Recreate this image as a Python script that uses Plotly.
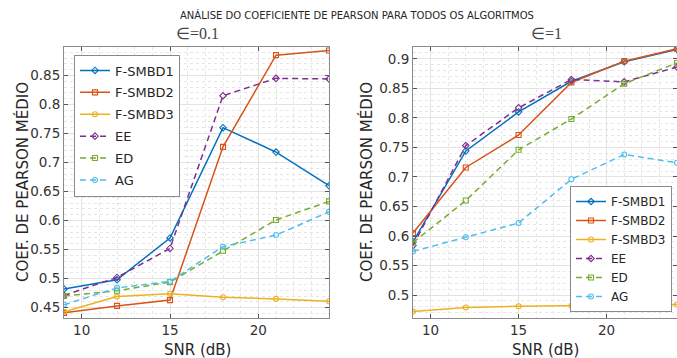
import plotly.graph_objects as go

snr = [9, 12, 15, 18, 21, 24]
names = ["F-SMBD1", "F-SMBD2", "F-SMBD3", "EE", "ED", "AG"]

# epsilon = 0.1
left_fsmbd1 = [0.482, 0.498, 0.570, 0.760, 0.718, 0.660]
left_fsmbd2 = [0.441, 0.453, 0.463, 0.727, 0.885, 0.893]
left_fsmbd3 = [0.443, 0.469, 0.474, 0.468, 0.465, 0.461]
left_ee = [0.471, 0.502, 0.552, 0.815, 0.845, 0.844]
left_ed = [0.470, 0.479, 0.494, 0.548, 0.601, 0.633]
left_ag = [0.455, 0.484, 0.495, 0.555, 0.575, 0.615]

# epsilon = 1
right_fsmbd1 = [0.590, 0.744, 0.810, 0.862, 0.895, 0.916]
right_fsmbd2 = [0.605, 0.716, 0.771, 0.860, 0.896, 0.917]
right_fsmbd3 = [0.472, 0.479, 0.481, 0.482, 0.483, 0.484]
right_ee = [0.584, 0.753, 0.817, 0.865, 0.861, 0.886]
right_ed = [0.589, 0.660, 0.746, 0.798, 0.858, 0.893]
right_ag = [0.574, 0.598, 0.622, 0.696, 0.738, 0.724]

left_ticks_y = [0.45, 0.5, 0.55, 0.6, 0.65, 0.7, 0.75, 0.8, 0.85]
right_ticks_y = [0.5, 0.55, 0.6, 0.65, 0.7, 0.75, 0.8, 0.85, 0.9]
ticks_x = [10, 15, 20]

colors = ["#0072BD", "#D95319", "#EDB120", "#7E2F8E", "#77AC30", "#4DBEEE"]
symbols = ["diamond-open", "square-open", "circle-open", "diamond-open", "square-open", "circle-open"]
dashes = ["solid", "solid", "solid", "6px,4px", "6px,4px", "6px,4px"]

left_series = [left_fsmbd1, left_fsmbd2, left_fsmbd3, left_ee, left_ed, left_ag]
right_series = [right_fsmbd1, right_fsmbd2, right_fsmbd3, right_ee, right_ed, right_ag]

W, H = 677, 358
FONT = "DejaVu Sans"

fig = go.Figure()
for i, (nm, ys) in enumerate(zip(names, left_series)):
    fig.add_trace(go.Scatter(
        x=snr, y=ys, name=nm, mode="lines+markers",
        line=dict(color=colors[i], width=1.5, dash=dashes[i]),
        marker=dict(symbol=symbols[i], size=5, color=colors[i], line=dict(width=1.1, color=colors[i])),
        xaxis="x", yaxis="y", legend="legend", legendgroup="L%d" % i,
    ))
for i, (nm, ys) in enumerate(zip(names, right_series)):
    fig.add_trace(go.Scatter(
        x=snr, y=ys, name=nm, mode="lines+markers",
        line=dict(color=colors[i], width=1.5, dash=dashes[i]),
        marker=dict(symbol=symbols[i], size=5, color=colors[i], line=dict(width=1.1, color=colors[i])),
        xaxis="x2", yaxis="y2", legend="legend2",
    ))

def px_x(p):
    return p / W

def px_y(p):
    return 1 - p / H

ydom = [px_y(317.5), px_y(47)]

axis_common = dict(
    showline=True, linecolor="#8a8a8a", linewidth=1, mirror="ticks",
    ticks="inside", ticklen=4, tickcolor="#555",
    showgrid=True, gridcolor="#e3e3e3", gridwidth=1,
    zeroline=False,
    tickfont=dict(family=FONT, size=13.5, color="#333"),
)

fig.update_layout(
    width=W, height=H,
    margin=dict(l=0, r=0, t=0, b=0),
    paper_bgcolor="white", plot_bgcolor="white",
    font=dict(family=FONT, color="#262626"),
    xaxis=dict(domain=[px_x(64), px_x(329)], range=[9, 24], tickvals=ticks_x,
               minor=dict(dtick=1, showgrid=True, gridcolor="#e6e6e6", griddash="dot", ticks=""),
               anchor="y", **axis_common),
    yaxis=dict(domain=ydom, range=[0.433, 0.899], tickvals=left_ticks_y,
               ticktext=[("%g" % v) for v in left_ticks_y],
               minor=dict(dtick=0.01, tick0=0, showgrid=True, gridcolor="#e6e6e6", griddash="dot", ticks=""),
               anchor="x", **axis_common),
    xaxis2=dict(domain=[px_x(413), 1.0], range=[9, 24], tickvals=ticks_x,
                minor=dict(dtick=1, showgrid=True, gridcolor="#e6e6e6", griddash="dot", ticks=""),
                anchor="y2", **axis_common),
    yaxis2=dict(domain=ydom, range=[0.462, 0.920], tickvals=right_ticks_y,
                ticktext=[("%g" % v) for v in right_ticks_y],
                minor=dict(dtick=0.01, tick0=0, showgrid=True, gridcolor="#e6e6e6", griddash="dot", ticks=""),
                anchor="x2", **axis_common),
    legend=dict(x=px_x(74), y=px_y(54.5), xanchor="left", yanchor="top",
                bgcolor="white", bordercolor="#8a8a8a", borderwidth=1,
                font=dict(family=FONT, size=13, color="#262626"),
                tracegroupgap=2, itemwidth=30),
    legend2=dict(x=px_x(672), y=px_y(186), xanchor="right", yanchor="top",
                 bgcolor="white", bordercolor="#8a8a8a", borderwidth=1,
                 font=dict(family=FONT, size=12, color="#262626"),
                 tracegroupgap=0, itemwidth=30),
    showlegend=True,
)

ann = [
    dict(text="ANÁLISE DO COEFICIENTE DE PEARSON PARA TODOS OS ALGORITMOS",
         x=px_x(357), y=px_y(15), font=dict(family=FONT, size=10, color="#262626")),
    dict(text="∈=0.1", x=px_x(197), y=px_y(34),
         font=dict(family="Liberation Serif", size=16, color="#444")),
    dict(text="∈=1", x=px_x(546), y=px_y(34),
         font=dict(family="Liberation Serif", size=16, color="#444")),
    dict(text="COEF. DE PEARSON MÉDIO", x=px_x(22), y=px_y(182), textangle=-90,
         font=dict(family=FONT, size=15, color="#262626")),
    dict(text="COEF. DE PEARSON MÉDIO", x=px_x(366), y=px_y(182), textangle=-90,
         font=dict(family=FONT, size=15, color="#262626")),
    dict(text="SNR (dB)", x=px_x(197), y=px_y(350),
         font=dict(family=FONT, size=15, color="#262626")),
    dict(text="SNR (dB)", x=px_x(545), y=px_y(350),
         font=dict(family=FONT, size=15, color="#262626")),
]
for a in ann:
    a.update(xref="paper", yref="paper", showarrow=False, xanchor="center", yanchor="middle")
fig.update_layout(annotations=ann)

fig.write_html("out.html", config={"displayModeBar": False},
               post_script="document.body.style.margin='0';document.body.style.overflow='hidden';")
